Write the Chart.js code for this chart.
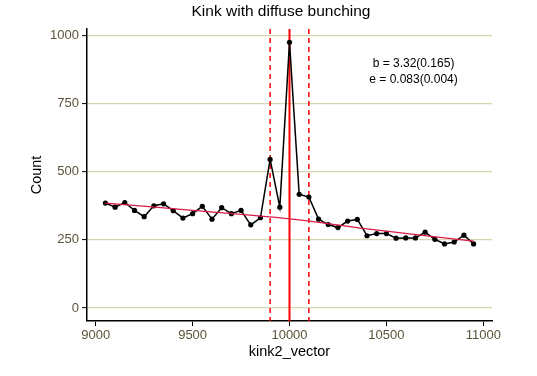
<!DOCTYPE html>
<html><head><meta charset="utf-8">
<script src="https://cdn.jsdelivr.net/npm/chart.js@4"></script>
<style>html,body{margin:0;padding:0;background:#fff}</style>
</head><body>
<canvas id="c" width="537" height="376"></canvas>
<script>
const binX = [9050,9100,9150,9200,9250,9300,9350,9400,9450,9500,9550,9600,9650,9700,9750,9800,9850,9900,9950,10000,10050,10100,10150,10200,10250,10300,10350,10400,10450,10500,10550,10600,10650,10700,10750,10800,10850,10900,10950];
const counts = [385,370,387,358,335,375,382,357,330,346,373,326,368,346,358,305,331,545,370,975,417,407,326,306,295,319,325,265,273,273,256,257,257,278,252,235,242,267,235];
const fitX = [9050,9500,10000,10400,10950];
const fitY = [385,358,327,290,245];
const kinkX = [10000];
const windowX = [9900,10100];
const xTicks = [9000,9500,10000,10500,11000];
const yTicks = [0,250,500,750,1000];
const titleText = 'Kink with diffuse bunching';
const xTitle = 'kink2_vector';
const yTitle = 'Count';
const annotation = ['b = 3.32(0.165)','e = 0.083(0.004)'];

const FONT = "'Liberation Sans', Arial, Helvetica, sans-serif";
const tickColor = '#5b5337';

const decor = {
  id: 'decor',
  beforeDatasetsDraw(chart) {
    const {ctx, chartArea: a, scales: {x}} = chart;
    ctx.save();
    ctx.strokeStyle = '#ff0000';
    ctx.lineWidth = 1.5;
    ctx.setLineDash([5,4]);
    windowX.forEach(v => {
      const px = x.getPixelForValue(v);
      ctx.beginPath(); ctx.moveTo(px, a.top); ctx.lineTo(px, a.bottom); ctx.stroke();
    });
    ctx.setLineDash([]);
    ctx.lineWidth = 2;
    kinkX.forEach(v => {
      const px = x.getPixelForValue(v);
      ctx.beginPath(); ctx.moveTo(px, a.top); ctx.lineTo(px, a.bottom); ctx.stroke();
    });
    ctx.restore();
  },
  afterDraw(chart) {
    const {ctx, chartArea: a, scales: {x, y}} = chart;
    ctx.save();
    ctx.fillStyle = '#000';
    ctx.textAlign = 'center';
    ctx.textBaseline = 'middle';
    ctx.font = '15.5px ' + FONT;
    ctx.fillText(titleText, 281, 12);
    ctx.font = '14.5px ' + FONT;
    ctx.fillText(xTitle, (a.left + a.right) / 2, 352);
    ctx.save();
    ctx.translate(37, (a.top + a.bottom) / 2);
    ctx.rotate(-Math.PI / 2);
    ctx.fillText(yTitle, 0, 0);
    ctx.restore();
    ctx.font = '12px ' + FONT;
    const ax = x.getPixelForValue(10640);
    ctx.fillText(annotation[0], ax, y.getPixelForValue(897));
    ctx.fillText(annotation[1], ax, y.getPixelForValue(839));
    ctx.restore();
  }
};

new Chart(document.getElementById('c'), {
  type: 'line',
  data: {
    datasets: [
      {
        data: fitX.map((v, i) => ({x: v, y: fitY[i]})),
        borderColor: '#d81b4a',
        borderWidth: 1.3,
        pointRadius: 0,
        tension: 0.4,
        order: 1
      },
      {
        data: binX.map((v, i) => ({x: v, y: counts[i]})),
        borderColor: '#000',
        borderWidth: 1.5,
        pointRadius: 2.6,
        pointBackgroundColor: '#000',
        pointBorderWidth: 0,
        tension: 0,
        order: 2
      }
    ]
  },
  options: {
    responsive: false,
    animation: false,
    layout: {padding: {top: 29, right: 45, left: 0, bottom: 0}},
    plugins: {legend: {display: false}, tooltip: {enabled: false}, title: {display: false}},
    scales: {
      x: {
        type: 'linear', min: 8955, max: 11045,
        afterBuildTicks: s => { s.ticks = xTicks.map(v => ({value: v})); },
        afterFit: s => { s.height = 55; },
        ticks: {color: tickColor, font: {size: 13, family: FONT}, padding: 2, maxRotation: 0, autoSkip: false, callback: v => String(v)},
        grid: {drawOnChartArea: false, drawTicks: true, tickLength: 5, tickColor: '#000', tickWidth: 1},
        border: {display: true, color: '#000', width: 1.5}
      },
      y: {
        type: 'linear', min: -48, max: 1024,
        afterBuildTicks: s => { s.ticks = yTicks.map(v => ({value: v})); },
        afterFit: s => { s.width = 87; },
        ticks: {color: tickColor, font: {size: 13, family: FONT}, padding: 3, callback: v => String(v)},
        grid: {color: '#d8d5b0', lineWidth: 1.2, drawTicks: true, tickLength: 5, tickColor: '#000', tickWidth: 1},
        border: {display: true, color: '#000', width: 1.5}
      }
    }
  },
  plugins: [decor]
});
</script>
</body></html>
